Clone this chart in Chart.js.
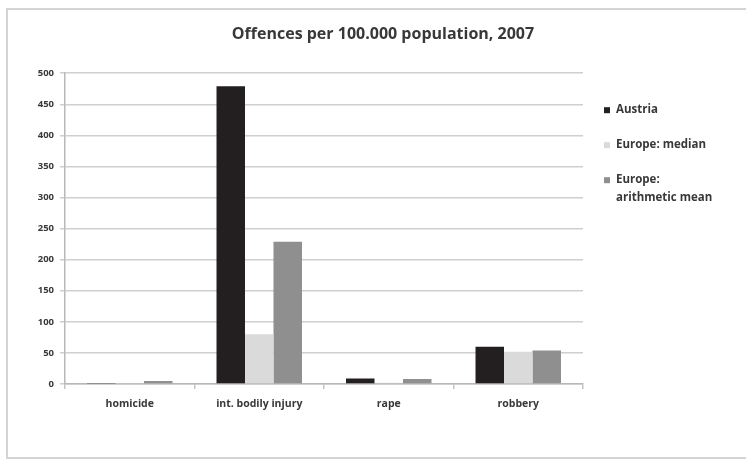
<!DOCTYPE html>
<html>
<head>
<meta charset="utf-8">
<script src="https://cdn.jsdelivr.net/npm/chart.js@4/dist/chart.umd.min.js"></script>
<style>
    html, body { margin: 0; padding: 0; background: #ffffff; overflow: hidden; }
    #wrap { position: relative; width: 746px; height: 459px; overflow: hidden; }
    #frame {
        position: absolute; left: 6px; top: 8px; width: 760px; height: 447px;
        border: 2px solid #d4d4d4; border-right: none;
    }
    canvas { position: absolute; left: 0; top: 0; }
</style>
</head>
<body>
<div id="wrap">
    <div id="frame"></div>
    <canvas id="chart" width="746" height="459"></canvas>
</div>
<script>
//
// Data
//

const CATEGORIES = [ 'homicide', 'int. bodily injury', 'rape', 'robbery' ]
const AUSTRIA = [ 1, 479, 9, 60 ]
const EUROPE_MEDIAN = [ 1.5, 80, 2, 52 ]
const EUROPE_MEAN = [ 5, 229, 8, 54 ]
const Y_TICKS = [ 0, 50, 100, 150, 200, 250, 300, 350, 400, 450, 500 ]

const SERIES_NAMES = [ 'Austria', 'Europe: median', [ 'Europe:', 'arithmetic mean' ] ]
const SERIES_COLORS = [ '#231f20', '#dadada', '#8f8f8f' ]

const FONT = '"Open Sans", "Liberation Sans", sans-serif'
const TEXT = '#383838'

//
// Legend drawn at the right of the plot
//

const side_legend = {
    id: 'side_legend',
    afterDraw (chart) {
        const ctx = chart.ctx
        const area = chart.chartArea
        const x = area.right + 21
        const rows = [ 37, 72, 107 ]
        ctx.save()
        ctx.font = 'bold 11.5px ' + FONT
        ctx.textBaseline = 'middle'
        chart.data.datasets.forEach((ds, i) => {
            const y = area.top + rows[i]
            ctx.fillStyle = ds.backgroundColor
            ctx.fillRect(x, y - 3, 6, 6)
            ctx.fillStyle = TEXT
            const lines = Array.isArray(ds.label) ? ds.label : [ ds.label ]
            lines.forEach((t, j) => ctx.fillText(t, x + 12, y + j * 18))
        })
        ctx.restore()
    },
}

const ctx = document.getElementById('chart').getContext('2d')
const chart = new Chart(ctx, {
    type: 'bar',
    data: {
        labels: CATEGORIES,
        datasets: [ AUSTRIA, EUROPE_MEDIAN, EUROPE_MEAN ].map((values, i) => ({
            label: SERIES_NAMES[i],
            data: values,
            backgroundColor: SERIES_COLORS[i],
            borderWidth: 0,
            barPercentage: 1,
            categoryPercentage: 0.66,
        })),
    },
    options: {
        responsive: false,
        animation: false,
        layout: { padding: { left: 20, right: 0, top: 0, bottom: 30 } },
        plugins: {
            legend: { display: false },
            tooltip: { enabled: false },
            title: {
                display: true,
                text: 'Offences per 100.000 population, 2007',
                color: TEXT,
                font: { family: FONT, size: 16, weight: 'bold' },
                padding: { top: 25, bottom: 29 },
            },
        },
        scales: {
            x: {
                grid: {
                    offset: true,
                    drawOnChartArea: false,
                    tickLength: 5,
                    color: '#c4c4c4',
                    lineWidth: 1.5,
                },
                border: { color: '#b8b8b8', width: 1.5 },
                ticks: {
                    color: TEXT,
                    font: { family: FONT, size: 10.5, weight: 'bold' },
                    padding: 9,
                    maxRotation: 0,
                },
                afterFit (scale) { scale.height = 45 },
            },
            y: {
                min: 0,
                max: 500,
                afterBuildTicks (scale) { scale.ticks = Y_TICKS.map((v) => ({ value: v })) },
                grid: {
                    color: '#cfcfcf',
                    lineWidth: 1.5,
                    tickLength: 5,
                },
                border: { color: '#b8b8b8', width: 1.5 },
                ticks: {
                    color: TEXT,
                    font: { family: FONT, size: 9.5, weight: 'bold' },
                    padding: 6,
                },
                afterFit (scale) { scale.width = 45 },
            },
            // empty axis that reserves the room used by the legend
            side: {
                type: 'linear',
                position: 'right',
                grid: { display: false },
                border: { display: false },
                ticks: { display: false },
                afterFit (scale) { scale.width = 163 },
            },
        },
    },
    plugins: [ side_legend ],
})
</script>
</body>
</html>
